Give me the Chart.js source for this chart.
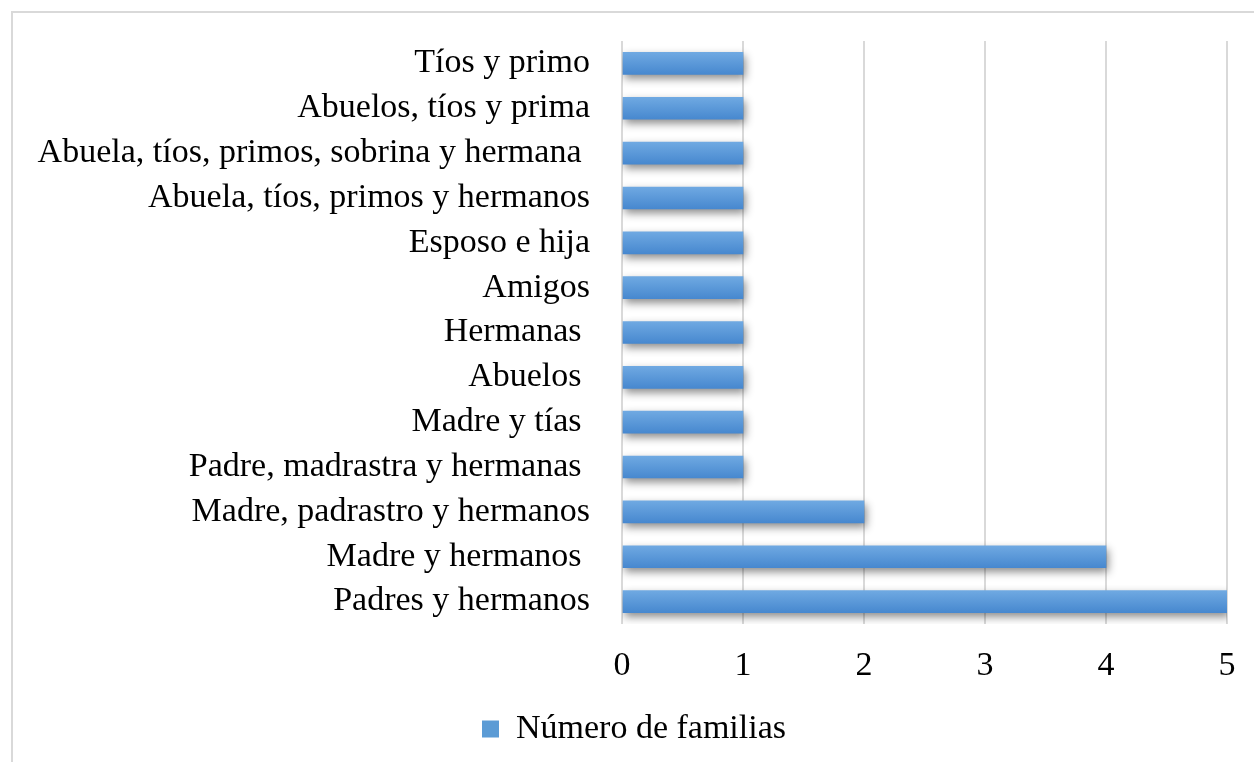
<!DOCTYPE html>
<html>
<head>
<meta charset="utf-8">
<script src="https://cdn.jsdelivr.net/npm/chart.js@4"></script>
<style>
  html, body { margin: 0; padding: 0; background: #fff; }
  #wrap { width: 1254px; height: 762px; position: relative; }
</style>
</head>
<body>
<div id="wrap"><canvas id="familyChart"></canvas></div>
<script>
// data (top to bottom)
const categories = [
    'Tíos y primo',
    'Abuelos, tíos y prima',
    'Abuela, tíos, primos, sobrina y hermana ',
    'Abuela, tíos, primos y hermanos',
    'Esposo e hija',
    'Amigos',
    'Hermanas ',
    'Abuelos ',
    'Madre y tías ',
    'Padre, madrastra y hermanas ',
    'Madre, padrastro y hermanos',
    'Madre y hermanos ',
    'Padres y hermanos'
];
const familias = [1, 1, 1, 1, 1, 1, 1, 1, 1, 1, 2, 4, 5];
const seriesName = 'Número de familias';
const xTicks = [0, 1, 2, 3, 4, 5];

const serif = "'Liberation Serif', 'Times New Roman', serif";

// gradient per bar, from the y scale
function barFill(c) {
    const y = c.chart.scales.y;
    if (!y || y.top === undefined) return '#5b9bd5';
    const mid = y.getPixelForValue(c.dataIndex);
    const g = c.chart.ctx.createLinearGradient(0, mid - 11, 0, mid + 11);
    g.addColorStop(0, '#6fa9e2');
    g.addColorStop(1, '#4788cf');
    return g;
}

// outer frame + bar shadow
const framePlugin = {
    id: 'frame',
    afterLayout(chart) {
        // legend sits a bit right of centre in the original
        chart.legend.left += 41;
    },
    beforeDraw(chart) {
        const ctx = chart.ctx;
        ctx.save();
        ctx.strokeStyle = '#d9d9d9';
        ctx.lineWidth = 2;
        ctx.beginPath();
        ctx.moveTo(12, 762);
        ctx.lineTo(12, 12);
        ctx.lineTo(1254, 12);
        ctx.stroke();
        ctx.restore();
    },
    beforeDatasetsDraw(chart) {
        const ctx = chart.ctx;
        ctx.save();
        ctx.shadowColor = 'rgba(0,0,0,0.45)';
        ctx.shadowBlur = 8;
        ctx.shadowOffsetX = 2;
        ctx.shadowOffsetY = 4;
    },
    afterDatasetsDraw(chart) {
        chart.ctx.restore();
    }
};

var ctx = document.getElementById('familyChart');

var myChart = new Chart(ctx, {
    type: 'bar',
    data: {
        labels: categories,
        datasets: [{
            label: seriesName,
            data: familias,
            backgroundColor: barFill,
            borderWidth: 0,
            barThickness: 22,
        }]
    },
    options: {
        indexAxis: 'y',
        responsive: true,
        maintainAspectRatio: false,
        animation: false,
        layout: {
            padding: { top: 41, right: 27, bottom: 6, left: 0 }
        },
        scales: {
            x: {
                min: 0,
                max: 5,
                afterBuildTicks: (scale) => {
                    scale.ticks = xTicks.map(v => ({ value: v }));
                },
                afterFit: (scale) => {
                    scale.height = 78;
                    scale.paddingLeft = 0;
                    scale.paddingRight = 0;
                },
                grid: { color: '#d9d9d9', lineWidth: 2, drawTicks: false },
                border: { display: false },
                ticks: {
                    padding: 22,
                    color: '#000',
                    font: { family: serif, size: 34 }
                }
            },
            y: {
                afterFit: (scale) => {
                    scale.width = 622;
                    scale.paddingTop = 0;
                    scale.paddingBottom = 0;
                },
                grid: { display: false, drawTicks: false },
                border: { display: false },
                ticks: {
                    padding: 32,
                    color: '#000',
                    font: { family: serif, size: 34 }
                }
            }
        },
        plugins: {
            tooltip: { enabled: false },
            legend: {
                position: 'bottom',
                labels: {
                    boxWidth: 17,
                    boxHeight: 17,
                    padding: 10,
                    color: '#000',
                    font: { family: serif, size: 34 },
                    generateLabels: (chart) => [{
                        text: seriesName,
                        fillStyle: '#5b9bd5',
                        strokeStyle: '#5b9bd5',
                        lineWidth: 0,
                        datasetIndex: 0,
                        hidden: false
                    }]
                }
            }
        }
    },
    plugins: [framePlugin]
});
</script>
</body>
</html>
